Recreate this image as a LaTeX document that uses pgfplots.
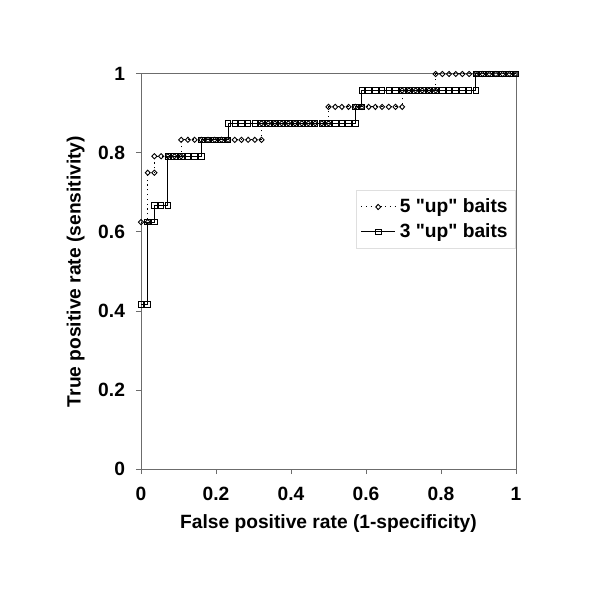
\documentclass[border=0pt]{standalone}
\usepackage{fontspec}
\setmainfont{Liberation Sans}
\usepackage{pgfplots}
\pgfplotsset{compat=1.18}
\begin{document}
\begin{tikzpicture}
\path[use as bounding box] (0,0) rectangle (300pt,300pt);
\begin{axis}[
  at={(70.5pt,65.5pt)}, anchor=south west,
  scale only axis, width=187.5pt, height=197.5pt,
  xmin=0, xmax=1, ymin=0, ymax=1,
  xtick={0,0.2,0.4,0.6,0.8,1},
  ytick={0,0.2,0.4,0.6,0.8,1},
  tick pos=left,
  tick align=outside,
  major tick length=2.5pt,
  axis line style={draw=gray!85!black, line width=0.5pt},
  tick style={draw=gray!85!black, line width=0.5pt},
  /pgf/number format/assume math mode=true,
  ticklabel style={font=\bfseries\fontsize{9.6}{11}\selectfont},
  xticklabel style={yshift=-3pt},
  yticklabel style={xshift=-2pt},
  label style={font=\bfseries\fontsize{9.6}{11}\selectfont},
  xlabel={False positive rate (1-specificity)},
  ylabel={True positive rate (sensitivity)},
  xlabel style={yshift=0pt},
  ylabel style={yshift=0pt},
  legend style={at={(1,0.706)}, anchor=north east, draw=gray!25, fill=white,
    font=\bfseries\fontsize{9.6}{11}\selectfont, row sep=0pt, inner sep=2pt},
  legend cell align=left,
]
\addplot[black, line width=0.5pt, dash pattern=on 0.6pt off 1.8pt,
  mark=diamond, mark size=1.3pt, mark options={solid, fill=white, line width=0.45pt, xscale=1.3}]
coordinates {
(0,0.625)(0.0179,0.625)(0.0179,0.75)(0.0357,0.75)(0.0357,0.7917)(0.0536,0.7917)(0.0714,0.7917)(0.0893,0.7917)(0.1071,0.7917)
(0.1071,0.8333)(0.125,0.8333)(0.1429,0.8333)(0.1607,0.8333)(0.1786,0.8333)(0.1964,0.8333)(0.2143,0.8333)(0.2321,0.8333)(0.25,0.8333)(0.2679,0.8333)(0.2857,0.8333)(0.3036,0.8333)(0.3214,0.8333)
(0.3214,0.875)(0.3393,0.875)(0.3571,0.875)(0.375,0.875)(0.3929,0.875)(0.4107,0.875)(0.4286,0.875)(0.4464,0.875)(0.4643,0.875)(0.4821,0.875)(0.5,0.875)
(0.5,0.9167)(0.5179,0.9167)(0.5357,0.9167)(0.5536,0.9167)(0.5714,0.9167)(0.5893,0.9167)(0.6071,0.9167)(0.625,0.9167)(0.6429,0.9167)(0.6607,0.9167)(0.6786,0.9167)(0.6964,0.9167)
(0.6964,0.9583)(0.7143,0.9583)(0.7321,0.9583)(0.75,0.9583)(0.7679,0.9583)(0.7857,0.9583)
(0.7857,1)(0.8036,1)(0.8214,1)(0.8393,1)(0.8571,1)(0.875,1)(0.8929,1)(0.9107,1)(0.9286,1)(0.9464,1)(0.9643,1)(0.9821,1)(1,1)
};
\addlegendentry{5 \textquotedbl up\textquotedbl\ baits}
\addplot[black, line width=0.5pt,
  mark=square, mark size=1.4pt, mark options={solid, fill=white, line width=0.45pt}]
coordinates {
(0,0.4167)(0.0179,0.4167)(0.0179,0.625)(0.0357,0.625)(0.0357,0.6667)(0.0536,0.6667)(0.0714,0.6667)
(0.0714,0.7917)(0.0893,0.7917)(0.1071,0.7917)(0.125,0.7917)(0.1429,0.7917)(0.1607,0.7917)
(0.1607,0.8333)(0.1786,0.8333)(0.1964,0.8333)(0.2143,0.8333)(0.2321,0.8333)
(0.2321,0.875)(0.25,0.875)(0.2679,0.875)(0.2857,0.875)(0.3036,0.875)(0.3214,0.875)(0.3393,0.875)(0.3571,0.875)(0.375,0.875)(0.3929,0.875)(0.4107,0.875)(0.4286,0.875)(0.4464,0.875)(0.4643,0.875)(0.4821,0.875)(0.5,0.875)(0.5179,0.875)(0.5357,0.875)(0.5536,0.875)(0.5714,0.875)
(0.5714,0.9167)(0.5893,0.9167)
(0.5893,0.9583)(0.6071,0.9583)(0.625,0.9583)(0.6429,0.9583)(0.6607,0.9583)(0.6786,0.9583)(0.6964,0.9583)(0.7143,0.9583)(0.7321,0.9583)(0.75,0.9583)(0.7679,0.9583)(0.7857,0.9583)(0.8036,0.9583)(0.8214,0.9583)(0.8393,0.9583)(0.8571,0.9583)(0.875,0.9583)(0.8929,0.9583)
(0.8929,1)(0.9107,1)(0.9286,1)(0.9464,1)(0.9643,1)(0.9821,1)(1,1)
};
\addlegendentry{3 \textquotedbl up\textquotedbl\ baits}
\end{axis}
\end{tikzpicture}
\end{document}
